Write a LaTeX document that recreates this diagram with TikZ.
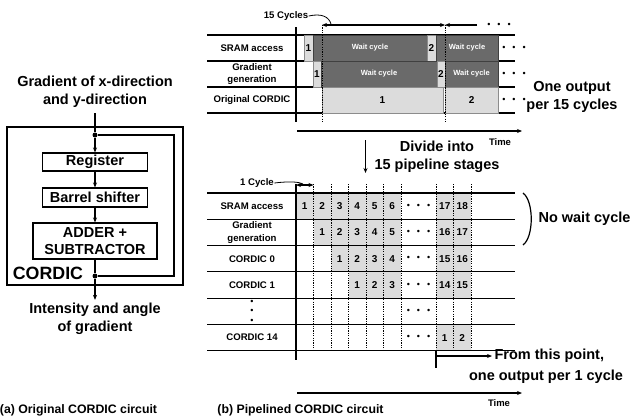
\documentclass[tikz,border=0pt]{standalone}
\usepackage{fontspec}
\setmainfont{Liberation Sans}
\usetikzlibrary{arrows.meta, positioning, calc}
\definecolor{cdark}{HTML}{6A6A6A}
\definecolor{clight}{HTML}{DCDCDC}
\newcommand\threedots{•\hspace{7pt}•\hspace{7pt}•}
\tikzset{
  every picture/.style={font=\bfseries, line width=1.1pt},
  big/.style={font=\fontsize{14.5}{17.6}\selectfont\bfseries, align=center, inner sep=0pt},
  rowlbl/.style={font=\fontsize{9.6}{12.5}\selectfont\bfseries, align=center, inner sep=0pt},
  caption/.style={font=\fontsize{12.3}{14}\selectfont\bfseries, inner sep=0pt},
  timelbl/.style={font=\fontsize{9.5}{11}\selectfont\bfseries, inner sep=0pt},
  block/.style={draw, line width=1.1pt, font=\fontsize{14.5}{17.6}\selectfont\bfseries, align=center, inner sep=0pt},
  arrow/.style={-{Stealth[length=5pt, width=4pt]}, line width=1.1pt},
  darrow/.style={{Stealth[length=5pt, width=4pt]}-{Stealth[length=5pt, width=4pt]}, line width=1.1pt},
  waitbox/.style={draw=black!75, fill=cdark, text=white, inner sep=0pt, line width=0.6pt, minimum height=26pt, font=\fontsize{7.5}{9}\selectfont\bfseries},
  cell/.style={draw=black!45, fill=clight, inner sep=0pt, line width=0.5pt, minimum height=26pt, font=\fontsize{10}{12}\selectfont\bfseries},
  pcell/.style={fill=clight, inner sep=0pt, minimum width=17.5pt, minimum height=26.3pt, font=\fontsize{10}{12}\selectfont\bfseries},
  hdots/.style={font=\fontsize{9}{9.5}\selectfont, inner sep=0pt, align=center},
  dotv/.style={dash pattern=on 1.2pt off 1.2pt, line width=0.9pt},
  jn/.style={circle, fill, inner sep=0pt, minimum size=5pt},
}

\begin{document}
\begin{tikzpicture}[x=1pt, y=-1pt]
  \useasboundingbox (0,0) rectangle (632,418);
  % (a) original circuit
  \node[big] (gin) at (95,92) {Gradient of x-direction\\and y-direction};
  \node[draw, line width=2.4pt, minimum width=176pt, minimum height=158pt, inner sep=0pt] (cordic) at (95,206) {};
  \node[jn] (jin) at (95,135) {};
  \node[jn] (jout) at (95,276) {};
  \node[block, minimum width=105pt, minimum height=18pt] (reg) at (95,162) {Register};
  \node[block, minimum width=105pt, minimum height=19pt] (bsh) at (95,197.5) {Barrel shifter};
  \node[block, minimum width=124pt, minimum height=36pt] (add) at (95,241) {ADDER +\\SUBTRACTOR};
  \node[font=\fontsize{17.8}{20}\selectfont\bfseries, inner sep=0pt] (cname) at (48,273) {CORDIC};
  \node[big] (gout) at (95,319) {Intensity and angle\\of gradient};
  \coordinate (fb1) at (174,135);
  \coordinate (fb2) at (174,276);
  \draw ([yshift=-5pt]gin.south) -- (jin);
  \draw[arrow] (jin) -- (reg);
  \draw[arrow] (reg) -- (bsh);
  \draw[arrow] (bsh) -- (add);
  \draw (add) -- (jout);
  \draw (jin) -- (fb1) -- (fb2) -- (jout);
  \draw[arrow] (jout) -- ([yshift=3pt]gout.north);
  \node[caption] (capa) at (78.5,410) {(a) Original CORDIC circuit};

  % (b) top: original timing
  \foreach \y in {35,61,87,113} \draw (207,\y) -- (515,\y);
  \draw (296,27) -- (296,122);
  \node[rowlbl] (ts) at (252,48) {SRAM access};
  \node[rowlbl] (tg) at (252,74) {Gradient\\generation};
  \node[rowlbl] (tc) at (252,100) {Original CORDIC};
  \node[cell, minimum width=9pt] (s1) at (308.5,48) {1};
  \node[waitbox, minimum width=114pt] (sw1) at (370,48) {Wait cycle};
  \node[cell, minimum width=9pt] (s2) at (431.5,48) {2};
  \node[waitbox, minimum width=62pt] (sw2) at (467,48) {Wait cycle};
  \node[cell, minimum width=8pt] (g1) at (317,74) {1};
  \node[waitbox, minimum width=116pt] (gw1) at (379,74) {Wait cycle};
  \node[cell, minimum width=8pt] (g2) at (441,74) {2};
  \node[waitbox, minimum width=53pt] (gw2) at (471.5,74) {Wait cycle};
  \node[cell, minimum width=121pt] (o1) at (382.5,100) {1};
  \node[cell, minimum width=52.5pt] (o2) at (471.75,100) {2};
  \draw[dotv] (322,25) -- (322,122);
  \draw[dotv] (445,25) -- (445,122);
  \coordinate (ca) at (322,25);
  \coordinate (cb) at (445,25);
  \coordinate (cc) at (477,25);
  \draw[darrow] (ca) -- (cb);
  \draw[arrow] (cc) -- (cb);
  \node[hdots] (tdots) at (499,25) {\threedots};
  \node[rowlbl] (c15) at (286,16) {15 Cycles};
  \coordinate (c15end) at (331,24);
  \draw[line width=0.8pt] (c15.east) .. controls (322,13) and (329,17) .. (c15end);
  \foreach \y in {48,74,100} \node[hdots] (rd\y) at (514,\y) {\threedots};
  \node[big] (out15) at (572,97) {One output\\per 15 cycles};
  \coordinate (ta0) at (297,131);
  \coordinate (ta1) at (522,131);
  \draw[arrow] (ta0) -- (ta1);
  \node[timelbl] (time1) at (500,142) {Time};
  \coordinate (dv0) at (365.5,140);
  \coordinate (dv1) at (365.5,173);
  \draw[arrow] (dv0) -- (dv1);
  \node[big] (divide) at (437,156.5) {Divide into\\15 pipeline stages};

  % (b) bottom: pipelined timing
  \foreach \r/\s in {0/0,1/1,2/2,3/3}
    \foreach \c in {\s,...,5} {
      \pgfmathtruncatemacro\n{\c-\s+1}
      \node[pcell] (p\r-\c) at ({304.75+17.5*\c},{206.15+26.3*\r}) {\n};
    }
  \foreach \r/\a/\b in {0/17/18,1/16/17,2/15/16,3/14/15,5/1/2} {
    \node[pcell] (q\r-8) at ({304.75+17.5*8},{206.15+26.3*\r}) {\a};
    \node[pcell] (q\r-9) at ({304.75+17.5*9},{206.15+26.3*\r}) {\b};
  }
  \foreach \r in {0,...,5} \node[hdots] (bd\r) at (418.5,{206.15+26.3*\r}) {\threedots};
  \foreach \r in {0,...,6} \draw (207,{193+26.3*\r}) -- (515,{193+26.3*\r});
  \foreach \c in {1,...,6,8,9,10} \draw[dotv] ({296+17.5*\c},184) -- ({296+17.5*\c},351);
  \draw (296,184) -- (296,360);
  \node[rowlbl] (bs) at (252,206) {SRAM access};
  \node[rowlbl] (bg) at (252,232.5) {Gradient\\generation};
  \node[rowlbl] (b0) at (252,258.8) {CORDIC 0};
  \node[rowlbl] (b1) at (252,285) {CORDIC 1};
  \node[hdots] (vd) at (252,311.5) {•\\•\\•};
  \node[rowlbl] (b14) at (252,337.6) {CORDIC 14};
  \node[rowlbl] (c1) at (257,183) {1 Cycle};
  \coordinate (cy0) at (296,185);
  \coordinate (cy1) at (313.5,185);
  \draw[darrow] (cy0) -- (cy1);
  \coordinate (c1end) at (303,184);
  \draw[line width=0.8pt] (c1.east) .. controls (291,181) and (299,182) .. (c1end);
  \coordinate (br0) at (523,193);
  \coordinate (br1) at (523,245);
  \draw[line width=1.2pt] (br0) .. controls (534,201) and (534,237) .. (br1);
  \node[big, anchor=west] (nowait) at (538,219) {No wait cycle};
  \coordinate (fp0) at (436,351);
  \coordinate (fp1) at (436,368);
  \coordinate (fp2) at (492,356);
  \draw (fp0) -- (fp1);
  \draw[arrow] (436,356) -- (fp2);
  \node[big, anchor=west] (fromtxt) at ([xshift=2pt]fp2) {From this point,};
  \node[big] (pertxt) at (546,377) {one output per 1 cycle};
  \coordinate (tb0) at (297,393);
  \coordinate (tb1) at (522,393);
  \draw[arrow] (tb0) -- (tb1);
  \node[timelbl] (time2) at (499,403) {Time};
  \node[caption] (capb) at (300.5,410) {(b) Pipelined CORDIC circuit};
\end{tikzpicture}
\end{document}
